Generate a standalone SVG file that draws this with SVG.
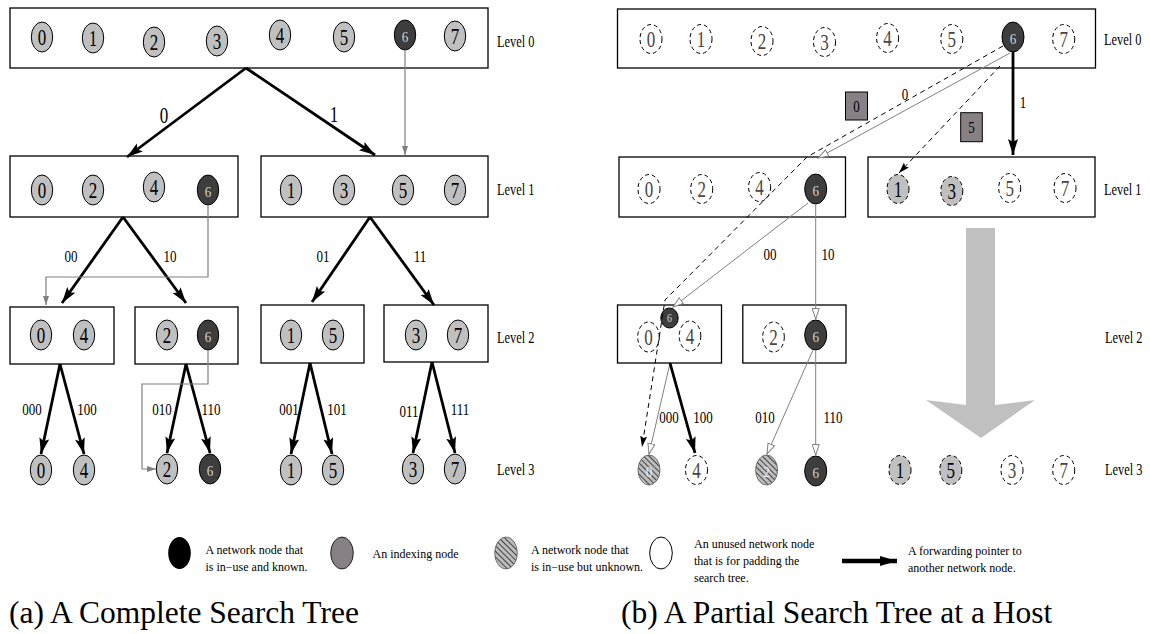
<svg xmlns="http://www.w3.org/2000/svg" width="1150" height="634" viewBox="0 0 1150 634">
<style>
.box{fill:#fff;stroke:#000;stroke-width:1.3}
.g{fill:#c0c0c0;stroke:#000;stroke-width:1}
.k{fill:#3d3d3d;stroke:#000;stroke-width:1}
.u{fill:#fff;stroke:#000;stroke-width:1;stroke-dasharray:4 3}
.gu{fill:#c0c0c0;stroke:#000;stroke-width:1;stroke-dasharray:4 3}
.h{fill:url(#hatch);stroke:#555;stroke-width:0.8}
.t{font-family:"Liberation Serif",serif;font-size:17px;text-anchor:middle;fill:#000}
.tk{fill:#d4d4d4}
.tu{fill:#454545}
.th{fill:#f0f0f0}
.s{font-family:"Liberation Serif",serif;font-size:13px;text-anchor:middle;fill:#000}
.lv{font-family:"Liberation Serif",serif;font-size:12.4px;fill:#000}
.lg{font-family:"Liberation Serif",serif;font-size:12px;fill:#000}
.cap{font-family:"Liberation Serif",serif;font-size:31.5px;fill:#000}
.thick{stroke:#000;stroke-width:2.8;fill:none;marker-end:url(#ab)}
.thin{stroke:#808080;stroke-width:1.2;fill:none;marker-end:url(#ag)}
.open{stroke:#808080;stroke-width:1;fill:none;marker-end:url(#ao)}
.dash{stroke:#000;stroke-width:1;stroke-dasharray:5 4;fill:none;marker-end:url(#ad);stroke-linejoin:round}
.sq{fill:#878186;stroke:#000;stroke-width:1}
</style>
<defs>
<marker id="ab" markerUnits="userSpaceOnUse" markerWidth="17" markerHeight="11" refX="16" refY="5" orient="auto"><path d="M0,0 L16,5 L0,10 L3,5 z" fill="#000"/></marker>
<marker id="ag" markerUnits="userSpaceOnUse" markerWidth="10" markerHeight="7" refX="9" refY="3" orient="auto"><path d="M0,0 L9,3 L0,6 z" fill="#808080"/></marker>
<marker id="ao" markerUnits="userSpaceOnUse" markerWidth="13" markerHeight="9" refX="11" refY="4" orient="auto"><path d="M0.5,0.5 L11,4 L0.5,7.5 z" fill="#fff" stroke="#808080" stroke-width="1"/></marker>
<marker id="ad" markerUnits="userSpaceOnUse" markerWidth="12" markerHeight="8" refX="11" refY="3.5" orient="auto"><path d="M0,0 L11,3.5 L0,7 L2,3.5 z" fill="#000"/></marker>
<marker id="al" markerUnits="userSpaceOnUse" markerWidth="18" markerHeight="11" refX="17" refY="5" orient="auto"><path d="M0,0 L17,5 L0,10 z" fill="#000"/></marker>
<pattern id="hatch" width="4" height="4" patternUnits="userSpaceOnUse" patternTransform="rotate(-45)"><rect width="4" height="4" fill="#bdbdbd"/><line x1="0" y1="0" x2="0" y2="4" stroke="#000" stroke-width="1.3"/></pattern>
</defs>

<!-- ============ LEFT PANEL ============ -->
<g id="a-level0">
<rect class="box" x="10" y="8" width="478" height="60"/>
<g id="a0-0"><ellipse class="g" cx="42" cy="37" rx="10.7" ry="15"/><text class="t" transform="translate(42 44.5) scale(1 1.3)">0</text></g>
<g id="a0-1"><ellipse class="g" cx="93" cy="38" rx="10.7" ry="15"/><text class="t" transform="translate(93 45.5) scale(1 1.3)">1</text></g>
<g id="a0-2"><ellipse class="g" cx="154" cy="42" rx="10.7" ry="15"/><text class="t" transform="translate(154 49.5) scale(1 1.3)">2</text></g>
<g id="a0-3"><ellipse class="g" cx="217" cy="41" rx="10.7" ry="15"/><text class="t" transform="translate(217 48.5) scale(1 1.3)">3</text></g>
<g id="a0-4"><ellipse class="g" cx="280" cy="35" rx="10.7" ry="15"/><text class="t" transform="translate(280 42.5) scale(1 1.3)">4</text></g>
<g id="a0-5"><ellipse class="g" cx="344" cy="37" rx="10.7" ry="15"/><text class="t" transform="translate(344 44.5) scale(1 1.3)">5</text></g>
<g id="a0-6"><ellipse class="k" cx="405" cy="35" rx="10.7" ry="15"/><text class="t tk" transform="translate(405 41.5) scale(1 1.2)" style="font-size:13px">6</text></g>
<g id="a0-7"><ellipse class="g" cx="455" cy="36" rx="10.7" ry="15"/><text class="t" transform="translate(455 43.5) scale(1 1.3)">7</text></g>
</g>

<g id="a-level1-left">
<rect class="box" x="10" y="156" width="228" height="61"/>
<g id="a1-0"><ellipse class="g" cx="42" cy="190" rx="10.7" ry="15"/><text class="t" transform="translate(42 197.5) scale(1 1.3)">0</text></g>
<g id="a1-2"><ellipse class="g" cx="93" cy="190" rx="10.7" ry="15"/><text class="t" transform="translate(93 197.5) scale(1 1.3)">2</text></g>
<g id="a1-4"><ellipse class="g" cx="154" cy="187" rx="10.7" ry="15"/><text class="t" transform="translate(154 194.5) scale(1 1.3)">4</text></g>
<g id="a1-6"><ellipse class="k" cx="208" cy="190" rx="10.7" ry="15"/><text class="t tk" transform="translate(208 196.5) scale(1 1.2)" style="font-size:13px">6</text></g>
</g>
<g id="a-level1-right">
<rect class="box" x="261" y="156" width="227" height="61"/>
<g id="a1-1"><ellipse class="g" cx="291" cy="190" rx="10.7" ry="15"/><text class="t" transform="translate(291 197.5) scale(1 1.3)">1</text></g>
<g id="a1-3"><ellipse class="g" cx="344" cy="190" rx="10.7" ry="15"/><text class="t" transform="translate(344 197.5) scale(1 1.3)">3</text></g>
<g id="a1-5"><ellipse class="g" cx="403" cy="190" rx="10.7" ry="15"/><text class="t" transform="translate(403 197.5) scale(1 1.3)">5</text></g>
<g id="a1-7"><ellipse class="g" cx="455" cy="190" rx="10.7" ry="15"/><text class="t" transform="translate(455 197.5) scale(1 1.3)">7</text></g>
</g>

<g id="a-level2-A">
<rect class="box" x="10" y="307" width="104" height="57"/>
<g id="a2-0"><ellipse class="g" cx="41" cy="335" rx="10.7" ry="15"/><text class="t" transform="translate(41 342.5) scale(1 1.3)">0</text></g>
<g id="a2-4"><ellipse class="g" cx="84" cy="335" rx="10.7" ry="15"/><text class="t" transform="translate(84 342.5) scale(1 1.3)">4</text></g>
</g>
<g id="a-level2-B">
<rect class="box" x="135" y="307" width="103" height="57"/>
<g id="a2-2"><ellipse class="g" cx="167" cy="335" rx="10.7" ry="15"/><text class="t" transform="translate(167 342.5) scale(1 1.3)">2</text></g>
<g id="a2-6"><ellipse class="k" cx="208" cy="335" rx="10.7" ry="15"/><text class="t tk" transform="translate(208 341.5) scale(1 1.2)" style="font-size:13px">6</text></g>
</g>
<g id="a-level2-C">
<rect class="box" x="261" y="305" width="103" height="58"/>
<g id="a2-1"><ellipse class="g" cx="291" cy="335" rx="10.7" ry="15"/><text class="t" transform="translate(291 342.5) scale(1 1.3)">1</text></g>
<g id="a2-5"><ellipse class="g" cx="333" cy="335" rx="10.7" ry="15"/><text class="t" transform="translate(333 342.5) scale(1 1.3)">5</text></g>
</g>
<g id="a-level2-D">
<rect class="box" x="384" y="305" width="104" height="57"/>
<g id="a2-3"><ellipse class="g" cx="416" cy="335" rx="10.7" ry="15"/><text class="t" transform="translate(416 342.5) scale(1 1.3)">3</text></g>
<g id="a2-7"><ellipse class="g" cx="458" cy="335" rx="10.7" ry="15"/><text class="t" transform="translate(458 342.5) scale(1 1.3)">7</text></g>
</g>

<g id="a-level3">
<g id="a3-0"><ellipse class="g" cx="41" cy="470" rx="10.7" ry="15"/><text class="t" transform="translate(41 477.5) scale(1 1.3)">0</text></g>
<g id="a3-4"><ellipse class="g" cx="84" cy="470" rx="10.7" ry="15"/><text class="t" transform="translate(84 477.5) scale(1 1.3)">4</text></g>
<g id="a3-2"><ellipse class="g" cx="167" cy="469" rx="10.7" ry="15"/><text class="t" transform="translate(167 476.5) scale(1 1.3)">2</text></g>
<g id="a3-6"><ellipse class="k" cx="210" cy="469" rx="10.7" ry="15"/><text class="t tk" transform="translate(210 475.5) scale(1 1.2)" style="font-size:13px">6</text></g>
<g id="a3-1"><ellipse class="g" cx="291" cy="470" rx="10.7" ry="15"/><text class="t" transform="translate(291 477.5) scale(1 1.3)">1</text></g>
<g id="a3-5"><ellipse class="g" cx="333" cy="470" rx="10.7" ry="15"/><text class="t" transform="translate(333 477.5) scale(1 1.3)">5</text></g>
<g id="a3-3"><ellipse class="g" cx="413" cy="469" rx="10.7" ry="15"/><text class="t" transform="translate(413 476.5) scale(1 1.3)">3</text></g>
<g id="a3-7"><ellipse class="g" cx="455" cy="469" rx="10.7" ry="15"/><text class="t" transform="translate(455 476.5) scale(1 1.3)">7</text></g>
</g>

<g id="a-connectors">
<path class="thick" d="M246,68 L127,157"/>
<path class="thick" d="M246,68 L375,155"/>
<path class="thin" d="M405,50 V155"/>
<path class="thick" d="M123,217 L62,303"/>
<path class="thick" d="M123,217 L186,303"/>
<path class="thick" d="M370,217 L312,302"/>
<path class="thick" d="M370,217 L434,305"/>
<path class="thin" d="M208,205 V277 H46 V305"/>
<path class="thick" d="M60,364 L41,454"/>
<path class="thick" d="M60,364 L84,454"/>
<path class="thick" d="M186,364 L167,453"/>
<path class="thick" d="M186,364 L210,453"/>
<path class="thick" d="M310,363 L291,454"/>
<path class="thick" d="M310,363 L332,454"/>
<path class="thick" d="M432,362 L413,453"/>
<path class="thick" d="M432,362 L455,453"/>
<path class="thin" d="M208,350 V384 H142 V469 H156"/>
</g>

<g id="a-labels">
<text class="t" transform="translate(164 123) scale(1 1.38)">0</text>
<text class="t" transform="translate(334 122) scale(1 1.38)">1</text>
<text class="s" transform="translate(71 262) scale(1 1.3)">00</text>
<text class="s" transform="translate(170 262) scale(1 1.3)">10</text>
<text class="s" transform="translate(323 262) scale(1 1.3)">01</text>
<text class="s" transform="translate(420 262) scale(1 1.3)">11</text>
<text class="s" transform="translate(32 415) scale(1 1.3)">000</text>
<text class="s" transform="translate(87 415) scale(1 1.3)">100</text>
<text class="s" transform="translate(162 415) scale(1 1.3)">010</text>
<text class="s" transform="translate(211 415) scale(1 1.3)">110</text>
<text class="s" transform="translate(289 415) scale(1 1.3)">001</text>
<text class="s" transform="translate(337 415) scale(1 1.3)">101</text>
<text class="s" transform="translate(409 417) scale(1 1.3)">011</text>
<text class="s" transform="translate(460 415) scale(1 1.3)">111</text>
<text class="lv" transform="translate(497 47) scale(1 1.3)">Level 0</text>
<text class="lv" transform="translate(497 195) scale(1 1.3)">Level 1</text>
<text class="lv" transform="translate(497 343) scale(1 1.3)">Level 2</text>
<text class="lv" transform="translate(497 475) scale(1 1.3)">Level 3</text>
</g>

<!-- ============ RIGHT PANEL ============ -->
<g id="b-bigarrow"><polygon points="966,228 995,228 995,405 1035,400 981,438 926,400 966,405" fill="#c0c0c0"/></g>

<g id="b-level0">
<rect class="box" x="617.5" y="9" width="478" height="59"/>
<g id="b0-0"><ellipse class="u" cx="651" cy="39" rx="11" ry="14.5"/><text class="t tu" transform="translate(651 46.5) scale(1 1.3)">0</text></g>
<g id="b0-1"><ellipse class="u" cx="701" cy="39" rx="11" ry="14.5"/><text class="t tu" transform="translate(701 46.5) scale(1 1.3)">1</text></g>
<g id="b0-2"><ellipse class="u" cx="762" cy="41" rx="11" ry="14.5"/><text class="t tu" transform="translate(762 48.5) scale(1 1.3)">2</text></g>
<g id="b0-3"><ellipse class="u" cx="824.5" cy="42" rx="11" ry="14.5"/><text class="t tu" transform="translate(824.5 49.5) scale(1 1.3)">3</text></g>
<g id="b0-4"><ellipse class="u" cx="887.6" cy="38" rx="11" ry="14.5"/><text class="t tu" transform="translate(887.6 45.5) scale(1 1.3)">4</text></g>
<g id="b0-5"><ellipse class="u" cx="951.8" cy="39" rx="11" ry="14.5"/><text class="t tu" transform="translate(951.8 46.5) scale(1 1.3)">5</text></g>
<g id="b0-6"><ellipse class="k" cx="1013" cy="37" rx="11" ry="15"/><text class="t tk" transform="translate(1013 43.5) scale(1 1.2)" style="font-size:13px">6</text></g>
<g id="b0-7"><ellipse class="u" cx="1063.7" cy="39" rx="11" ry="14.5"/><text class="t tu" transform="translate(1063.7 46.5) scale(1 1.3)">7</text></g>
</g>

<g id="b-level1-left">
<rect class="box" x="619" y="157" width="226.5" height="60"/>
<g id="b1-0"><ellipse class="u" cx="649" cy="189" rx="11" ry="14.5"/><text class="t tu" transform="translate(649 196.5) scale(1 1.3)">0</text></g>
<g id="b1-2"><ellipse class="u" cx="701.7" cy="189" rx="11" ry="14.5"/><text class="t tu" transform="translate(701.7 196.5) scale(1 1.3)">2</text></g>
<g id="b1-4"><ellipse class="u" cx="759.6" cy="187" rx="11" ry="14.5"/><text class="t tu" transform="translate(759.6 194.5) scale(1 1.3)">4</text></g>
<g id="b1-6"><ellipse class="k" cx="815.7" cy="189" rx="11" ry="15"/><text class="t tk" transform="translate(815.7 195.5) scale(1 1.2)" style="font-size:13px">6</text></g>
</g>
<g id="b-level1-right">
<rect class="box" x="868" y="157" width="227" height="60"/>
<g id="b1-1"><ellipse class="gu" cx="898" cy="189" rx="11" ry="14.5"/><text class="t" transform="translate(898 196.5) scale(1 1.3)">1</text></g>
<g id="b1-3"><ellipse class="gu" cx="951.8" cy="191" rx="11" ry="14.5"/><text class="t" transform="translate(951.8 198.5) scale(1 1.3)">3</text></g>
<g id="b1-5"><ellipse class="u" cx="1009.7" cy="188" rx="11" ry="14.5"/><text class="t tu" transform="translate(1009.7 195.5) scale(1 1.3)">5</text></g>
<g id="b1-7"><ellipse class="u" cx="1065" cy="188" rx="11" ry="14.5"/><text class="t tu" transform="translate(1065 195.5) scale(1 1.3)">7</text></g>
</g>

<g id="b-level2-A">
<rect class="box" x="617.5" y="305" width="104" height="58"/>
<g id="b2-0"><ellipse class="u" cx="648.5" cy="337" rx="10.8" ry="15"/><text class="t tu" transform="translate(648.5 344.5) scale(1 1.3)">0</text></g>
<g id="b2-4"><ellipse class="u" cx="690" cy="336" rx="10.8" ry="15"/><text class="t tu" transform="translate(690 343.5) scale(1 1.3)">4</text></g>
<g id="b2-6"><ellipse class="k" cx="669.5" cy="318" rx="8.7" ry="10"/><text class="t tk" transform="translate(669.5 322) scale(1 1.2)" style="font-size:10px">6</text></g>
</g>
<g id="b-level2-B">
<rect class="box" x="742.8" y="305" width="103.2" height="58"/>
<g id="b2-2"><ellipse class="u" cx="773.5" cy="337" rx="10.8" ry="15"/><text class="t tu" transform="translate(773.5 344.5) scale(1 1.3)">2</text></g>
<g id="b2-6b"><ellipse class="k" cx="815.7" cy="335" rx="11" ry="15"/><text class="t tk" transform="translate(815.7 341.5) scale(1 1.2)" style="font-size:13px">6</text></g>
</g>

<g id="b-level3">
<g id="b3-0"><ellipse class="h" cx="649" cy="470" rx="11" ry="15"/><text class="t th" transform="translate(649 476.5) scale(1 1.2)" style="font-size:13px">0</text></g>
<g id="b3-4"><ellipse class="u" cx="696.5" cy="470" rx="11" ry="14.5"/><text class="t tu" transform="translate(696.5 477.5) scale(1 1.3)">4</text></g>
<g id="b3-2"><ellipse class="h" cx="766.6" cy="470" rx="11" ry="15"/><text class="t th" transform="translate(766.6 476.5) scale(1 1.2)" style="font-size:13px">2</text></g>
<g id="b3-6"><ellipse class="k" cx="815.7" cy="471" rx="11" ry="15"/><text class="t tk" transform="translate(815.7 477.5) scale(1 1.2)" style="font-size:13px">6</text></g>
<g id="b3-1"><ellipse class="gu" cx="900" cy="470" rx="11" ry="14.5"/><text class="t" transform="translate(900 477.5) scale(1 1.3)">1</text></g>
<g id="b3-5"><ellipse class="gu" cx="950.8" cy="470" rx="11" ry="14.5"/><text class="t" transform="translate(950.8 477.5) scale(1 1.3)">5</text></g>
<g id="b3-3"><ellipse class="u" cx="1012" cy="470" rx="11" ry="14.5"/><text class="t tu" transform="translate(1012 477.5) scale(1 1.3)">3</text></g>
<g id="b3-7"><ellipse class="u" cx="1063.7" cy="470" rx="11" ry="14.5"/><text class="t tu" transform="translate(1063.7 477.5) scale(1 1.3)">7</text></g>
</g>

<g id="b-squares">
<g id="sq0"><rect class="sq" x="845.5" y="92" width="22" height="28"/><text class="s" transform="translate(856.5 112) scale(1 1.3)">0</text></g>
<g id="sq5"><rect class="sq" x="960.7" y="112.7" width="21.6" height="29"/><text class="s" transform="translate(971.5 133) scale(1 1.3)">5</text></g>
</g>

<g id="b-connectors">
<path class="thick" d="M1013,52 V155"/>
<path class="open" d="M1010,53 L818,158"/>
<path class="dash" d="M1003,46 L807,157 L665,300 L642,447"/>
<path class="dash" d="M1000,66 L899,173"/>
<path class="open" d="M808,203 L673,307"/>
<path class="open" d="M815.7,204 V319"/>
<path class="open" d="M670,363 L649,454"/>
<path class="thick" d="M670,363 L695,453"/>
<path class="open" d="M813,350 L767,454"/>
<path class="open" d="M815.7,350 V455"/>
</g>

<g id="b-labels">
<text class="s" transform="translate(905 100) scale(1 1.3)">0</text>
<text class="s" transform="translate(1023 108) scale(1 1.3)">1</text>
<text class="s" transform="translate(770 260) scale(1 1.3)">00</text>
<text class="s" transform="translate(828 260) scale(1 1.3)">10</text>
<text class="s" transform="translate(669 423) scale(1 1.3)">000</text>
<text class="s" transform="translate(703 423) scale(1 1.3)">100</text>
<text class="s" transform="translate(765 423) scale(1 1.3)">010</text>
<text class="s" transform="translate(833 423) scale(1 1.3)">110</text>
<text class="lv" transform="translate(1104 45) scale(1 1.3)">Level 0</text>
<text class="lv" transform="translate(1104 195) scale(1 1.3)">Level 1</text>
<text class="lv" transform="translate(1105 343) scale(1 1.3)">Level 2</text>
<text class="lv" transform="translate(1105 475) scale(1 1.3)">Level 3</text>
</g>

<!-- ============ LEGEND ============ -->
<g id="legend">
<g id="leg-known"><ellipse cx="179.5" cy="553" rx="11.3" ry="16" fill="#000"/>
<text class="lg" x="205.5" y="554">A network node that</text><text class="lg" x="205.5" y="571">is in−use and known.</text></g>
<g id="leg-index"><ellipse cx="342" cy="553" rx="11.3" ry="16" fill="#878186" stroke="#000" stroke-width="0.8"/>
<text class="lg" x="372.5" y="558">An indexing node</text></g>
<g id="leg-unknown"><ellipse cx="506" cy="553" rx="11.3" ry="16" class="h"/>
<text class="lg" x="531" y="554">A network node that</text><text class="lg" x="531" y="571">is in−use but unknown.</text></g>
<g id="leg-unused"><ellipse cx="661" cy="553" rx="11.3" ry="16" fill="#fff" stroke="#000" stroke-width="1"/>
<text class="lg" x="694" y="548">An unused network node</text><text class="lg" x="694" y="565">that is for padding the</text><text class="lg" x="694" y="582">search tree.</text></g>
<g id="leg-pointer"><line x1="842" y1="561" x2="897" y2="561" stroke="#000" stroke-width="4.5" marker-end="url(#al)"/>
<text class="lg" x="908" y="555">A forwarding pointer to</text><text class="lg" x="908" y="572">another network node.</text></g>
</g>

<g id="captions">
<text class="cap" x="9" y="623">(a) A Complete Search Tree</text>
<text class="cap" x="621" y="623">(b) A Partial Search Tree at a Host</text>
</g>
</svg>
